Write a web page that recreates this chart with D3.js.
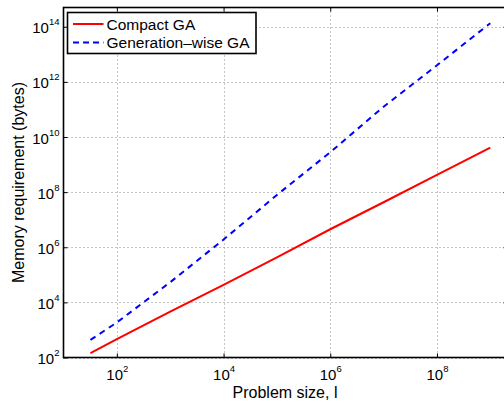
<!DOCTYPE html>
<html>
<head>
<meta charset="utf-8">
<script src="https://cdn.jsdelivr.net/npm/d3@7/dist/d3.min.js"></script>
<style>
  html, body { margin: 0; padding: 0; background: #fff; }
  svg { display: block; font-family: "Liberation Sans", Arial, Helvetica, sans-serif; }
</style>
</head>
<body>
<script>
// values (log-log)
var problemSize = [32, 1e2, 1e3, 1e4, 1e5, 1e6, 1e7, 1e8, 1e9];
var compactGA = [145, 468, 4.6e3, 4.3e4, 4.3e5, 4.5e6, 4.3e7, 4.2e8, 4.1e9];
var generationGA = [437, 1.86e3, 5.4e4, 1.9e6, 7.9e7, 2.8e9, 1.26e11, 4.0e12, 1.35e14];
var xTickExps = [2, 4, 6, 8];
var yTickExps = [2, 4, 6, 8, 10, 12, 14];
var seriesNames = ["Compact GA", "Generation\u2013wise GA"];

(function () {
var width = 504, height = 403;
var pLeft = 63.5, pRight = 507.5, pTop = 7.5, pBottom = 357.5;
var fontFam = "'Liberation Sans', Arial, Helvetica, sans-serif";

var svg = d3.select("body").append("svg")
    .attr("width", width)
    .attr("height", height);

svg.append("rect").attr("width", width).attr("height", height).attr("fill", "#fff");

var x = d3.scaleLog().domain([10, 2.1e9]).range([pLeft, pRight]);
var y = d3.scaleLog().domain([1e2, 5e14]).range([pBottom, pTop]);

var xTicks = xTickExps.map(function (e) { return Math.pow(10, e); });
var yTicks = yTickExps.map(function (e) { return Math.pow(10, e); });

//grid, dotted
var grid = svg.append("g")
    .attr("stroke", "#8c8c8c")
    .attr("stroke-width", 1)
    .attr("stroke-dasharray", "1,3");
grid.selectAll("line.vx").data(xTicks).enter().append("line")
    .attr("x1", function (d) { return Math.round(x(d)) + 0.5; })
    .attr("x2", function (d) { return Math.round(x(d)) + 0.5; })
    .attr("y1", pTop).attr("y2", pBottom);
grid.selectAll("line.hy").data(yTicks).enter().append("line")
    .attr("y1", function (d) { return Math.round(y(d)) + 0.5; })
    .attr("y2", function (d) { return Math.round(y(d)) + 0.5; })
    .attr("x1", pLeft).attr("x2", pRight);

// data lines
var line = d3.line()
    .x(function (d) { return x(d[0]); })
    .y(function (d) { return y(d[1]); });

svg.append("path")
    .datum(d3.zip(problemSize, compactGA))
    .attr("fill", "none")
    .attr("stroke", "#ff0000")
    .attr("stroke-width", 2)
    .attr("d", line);

svg.append("path")
    .datum(d3.zip(problemSize, generationGA))
    .attr("fill", "none")
    .attr("stroke", "#0000ff")
    .attr("stroke-width", 2)
    .attr("stroke-dasharray", "6,5")
    .attr("d", line);

// axes, ticks pointing in
function supLabels(sel, exps) {
    sel.attr("font-family", fontFam).attr("font-size", 15);
    sel.selectAll(".tick text").each(function (d, i) {
        var t = d3.select(this);
        t.text(null);
        t.append("tspan").text("10");
        t.append("tspan").attr("dy", -8).attr("font-size", 9.5).text(exps[i]);
    });
}

var xAxis = svg.append("g")
    .attr("transform", "translate(0," + pBottom + ")")
    .call(d3.axisBottom(x).tickValues(xTicks).tickSizeInner(-4).tickSizeOuter(0));
xAxis.selectAll(".tick text")
    .attr("y", 22).attr("dy", 0).attr("fill", "#000");
supLabels(xAxis, xTickExps);

var yAxis = svg.append("g")
    .attr("transform", "translate(" + pLeft + ",0)")
    .call(d3.axisLeft(y).tickValues(yTicks).tickSizeInner(-4).tickSizeOuter(0));
yAxis.selectAll(".tick text")
    .attr("x", -4).attr("dy", 0).attr("y", 6).attr("fill", "#000");
supLabels(yAxis, yTickExps);

svg.append("g")
    .attr("transform", "translate(0," + pTop + ")")
    .call(d3.axisTop(x).tickValues(xTicks).tickSizeInner(-4).tickSizeOuter(0).tickFormat(""));
svg.append("g")
    .attr("transform", "translate(" + pRight + ",0)")
    .call(d3.axisRight(y).tickValues(yTicks).tickSizeInner(-4).tickSizeOuter(0).tickFormat(""));

svg.selectAll(".domain").remove();
svg.selectAll(".tick line").attr("stroke", "#000").attr("stroke-width", 1);

// box
svg.append("rect")
    .attr("x", pLeft).attr("y", pTop)
    .attr("width", pRight - pLeft).attr("height", pBottom - pTop)
    .attr("fill", "none")
    .attr("stroke", "#000")
    .attr("stroke-width", 1.6);

// axis titles
svg.append("text")
    .attr("x", 285).attr("y", 397.5)
    .attr("text-anchor", "middle")
    .attr("font-size", 16)
    .text("Problem size, l");

svg.append("text")
    .attr("transform", "translate(23.5," + ((pTop + pBottom) / 2) + ") rotate(-90)")
    .attr("text-anchor", "middle")
    .attr("font-size", 16)
    .text("Memory requirement (bytes)");

// legend
var legend = svg.append("g");
legend.append("rect")
    .attr("x", 67.5).attr("y", 12.5)
    .attr("width", 188.5).attr("height", 41)
    .attr("fill", "#fff")
    .attr("stroke", "#000")
    .attr("stroke-width", 1.6);

var legendRows = [
    { name: seriesNames[0], color: "#ff0000", dash: null, y: 24 },
    { name: seriesNames[1], color: "#0000ff", dash: "6,4", y: 42.5 }
];
var rows = legend.selectAll("g.row").data(legendRows).enter().append("g");
rows.append("line")
    .attr("x1", 73).attr("x2", 103.5)
    .attr("y1", function (d) { return d.y; })
    .attr("y2", function (d) { return d.y; })
    .attr("stroke", function (d) { return d.color; })
    .attr("stroke-width", 2)
    .attr("stroke-dasharray", function (d) { return d.dash; });
rows.append("text")
    .attr("x", 106.5)
    .attr("y", function (d) { return d.y + 5.5; })
    .attr("font-size", 15.5)
    .text(function (d) { return d.name; });
})();
</script>
</body>
</html>
